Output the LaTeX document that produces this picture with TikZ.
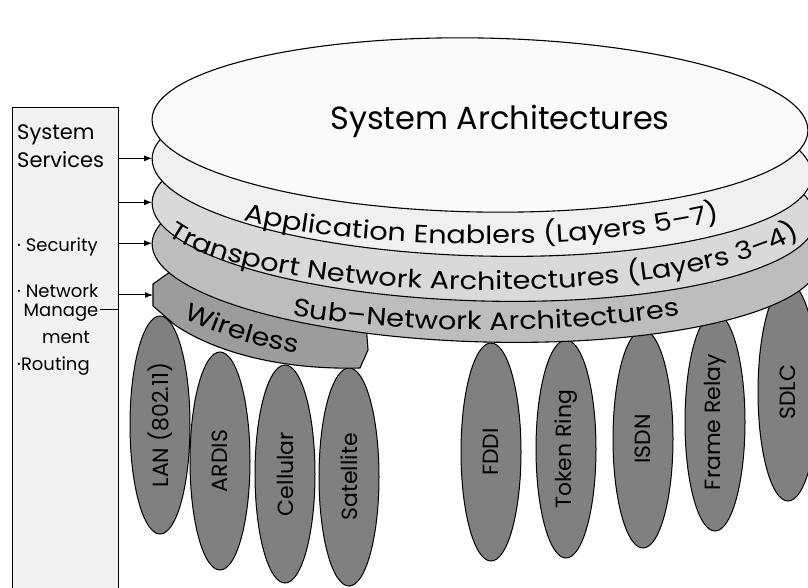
\documentclass[tikz,border=0pt]{standalone}
\usepackage{fontspec}
\setmainfont{Poppins}
\newfontfamily\bandfamily{Poppins}[FakeStretch=1.15]
\usepackage{tikz}
\usetikzlibrary{calc}
\usetikzlibrary{arrows.meta}
\usetikzlibrary{shapes.geometric}
\usetikzlibrary{decorations.text}
\definecolor{sysgray}{gray}{0.98}
\definecolor{appgray}{gray}{0.94}
\definecolor{trngray}{gray}{0.85}
\definecolor{subgray}{gray}{0.74}
\definecolor{wlsgray}{gray}{0.61}
\definecolor{netgray}{gray}{0.50}
\definecolor{boxgray}{gray}{0.95}
\newcommand{\sysfont}{\fontsize{32}{38}\selectfont}
\newcommand{\bandfont}{\bandfamily\fontsize{25}{30}\selectfont}
\newcommand{\netfont}{\fontsize{22}{26}\selectfont}
\newcommand{\boxfont}{\fontsize{21}{25}\selectfont}
\newcommand{\itemfont}{\fontsize{18}{22}\selectfont}
\tikzset{>=latex}
\tikzset{
  layer/.style = {ellipse, draw, line width=1.1pt, inner sep=0, outer sep=0},
  netoval/.style = {ellipse, draw, line width=1pt, fill=netgray, minimum width=218pt,
                    minimum height=60pt, inner sep=0, rotate=90, font=\netfont},
  feed/.style = {-{Latex[length=8pt, width=6pt]}, line width=1pt},
  bandtext/.style = {decorate, decoration={text along path, text align=center, text={#1}}},
  boxtext/.style = {anchor=base west, inner sep=0}
}

\begin{document}
\begin{tikzpicture}[x=1pt, y=1pt]
\useasboundingbox (0,0) rectangle (808,587);
\clip (0,0) rectangle (808,587);

% services column
\node [draw, line width=1pt, fill=boxgray, minimum width=106pt, minimum height=520pt,
       anchor=north west, inner sep=0] (svcbox) at (12,480) {};
\node [boxtext, font=\boxfont] (sys) at (17,447) {System};
\node [boxtext, font=\boxfont] (svc) at (17,419) {Services};
\node [boxtext, font=\itemfont] (sec) at (17,335) {· Security};
\node [boxtext, font=\itemfont] (net) at (17,290) {· Network};
\node [anchor=base, inner sep=0, font=\itemfont] (mgmt) at (61,270) {Manage};
\node [anchor=base, inner sep=0, font=\itemfont] (ment) at (66,244) {ment};
\node [boxtext, font=\itemfont] (rout) at (17,217) {·Routing};
\coordinate (dash) at ($(mgmt.base east)+(1,7)$);
\draw [line width=1pt] (dash) -- (dash -| svcbox.east);

% sub-network technologies
\node [netoval] (lan) at (160,162) {LAN (802.11)};
\node [netoval] (ardis) at (220,126) {ARDIS};
\node [netoval] (cell) at (285,113) {Cellular};
\node [netoval] (sat) at (349,110) {Satellite};
\node [netoval] (fddi) at (491,135) {FDDI};
\node [netoval] (token) at (566,138) {Token Ring};
\node [netoval] (isdn) at (643,148) {ISDN};
\node [netoval] (frame) at (715,165) {Frame Relay};
\node [netoval] (sdlc) at (788,195) {SDLC};

% wireless tab
\draw [line width=1.1pt, fill=wlsgray] (153,281) -- (153,303) -- (170,315) -- (365,277)
  -- (368,237) -- (360,219) .. controls (280,217) and (215,235) .. (175,262) -- cycle;
\coordinate (wless) at (153,292);
\path [bandtext={|\bandfont|Wireless}] (170,275) to[bend right=8] (312,231);

% stacked layers
\node [layer, fill=subgray, minimum width=668pt, minimum height=180pt, rotate=-1.5] (subnet) at (486,335) {};
\node [layer, fill=trngray, minimum width=664pt, minimum height=180pt, rotate=-1.5] (trans) at (484,376) {};
\node [layer, fill=appgray, minimum width=660pt, minimum height=178pt, rotate=-1.5] (appen) at (482,420) {};
\node [layer, fill=sysgray, minimum width=656pt, minimum height=174pt, rotate=-1] (sysarch) at (480,462) {};
\node [font=\sysfont] (systxt) at (500,466) {System Architectures};

\path [bandtext={|\bandfont|Application Enablers (Layers 5–7)}]
  (482,420) ++(188:330 and 77) arc [start angle=188, end angle=352, x radius=330, y radius=77];
\path [bandtext={|\bandfont|Transport Network Architectures (Layers 3–4)}]
  (484,376) ++(186:332 and 79) arc [start angle=186, end angle=354, x radius=332, y radius=79];
\path [bandtext={|\bandfont|Sub–Network Architectures}]
  (486,335) ++(188:334 and 78) arc [start angle=188, end angle=352, x radius=334, y radius=78];

% feeds from the services column
\draw [feed] (svcbox.east |- appen.west) -- (appen.west);
\draw [feed] (svcbox.east |- trans.west) -- (trans.west);
\draw [feed] (svcbox.east |- subnet.west) -- (subnet.west);
\draw [feed] (svcbox.east |- wless) -- (wless);
\end{tikzpicture}
\end{document}
